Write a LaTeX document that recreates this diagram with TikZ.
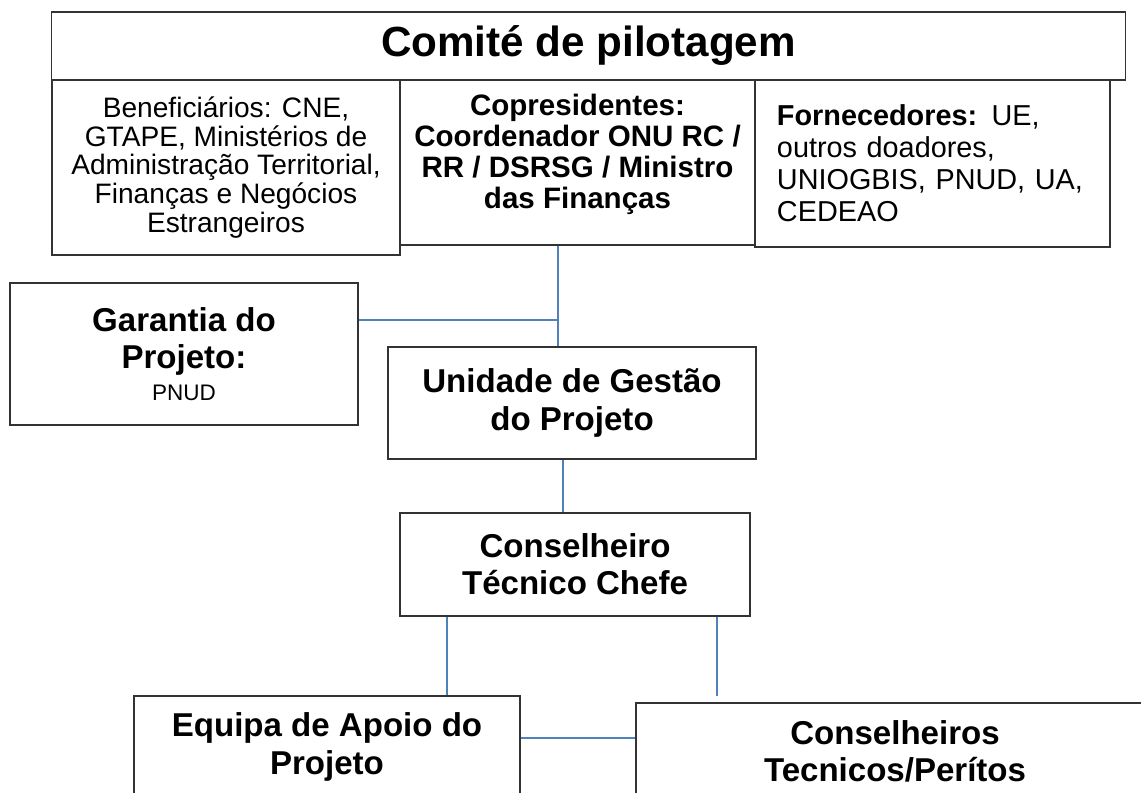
\documentclass[tikz,border=0pt]{standalone}
\usepackage{fontspec}
\setmainfont{Liberation Sans}
\definecolor{linkblue}{RGB}{79,129,189}

\begin{document}
\begin{tikzpicture}[x=0.025cm, y=-0.025cm,
        box/.style={draw=black!80, line width=0.9pt, align=center, inner sep=2pt},
        head/.style={box, font=\fontsize{30}{34}\selectfont\bfseries},
        member/.style={box, font=\fontsize{20}{20.3}\selectfont},
        unit/.style={box, font=\fontsize{23.5}{26.5}\selectfont\bfseries},
        link/.style={draw=linkblue, line width=0.8pt}
    ]
    \useasboundingbox (0,0) rectangle (1141,793);
    \clip (0,0) rectangle (1141,793);

    % ---- Comite de pilotagem ----
    \node[head, minimum width=26.825cm, minimum height=1.7cm] (comite) at (588.5,46) {Comité de pilotagem};
    \node[member, minimum width=8.7cm, minimum height=4.375cm] (benef) at (226,167.5)
        {Beneficiários: CNE,\\GTAPE, Ministérios de\\Administração Territorial,\\Finanças e Negócios\\Estrangeiros};
    \node[box, font=\fontsize{21}{22}\selectfont\bfseries, minimum width=8.875cm, minimum height=4.125cm] (copres) at (577.5,162.5)
        {Copresidentes:\\Coordenador ONU RC /\\RR / DSRSG / Ministro\\das Finanças\\[-6pt]\mbox{}};
    \node[box, font=\fontsize{20.5}{22.7}\selectfont, align=left, text width=7.775cm, inner xsep=0.55cm, minimum height=4.175cm] (fornec) at (932.5,163.5)
        {\textbf{Fornecedores:} UE,\\outros doadores,\\UNIOGBIS, PNUD, UA,\\CEDEAO};

    % ---- Garantia e unidades ----
    \node[unit, minimum width=8.7cm, minimum height=3.55cm] (garantia) at (184,354)
        {Garantia do\\Projeto:\\[-4pt]{\fontsize{16}{18}\selectfont\mdseries PNUD}};
    \node[unit, minimum width=9.2cm, minimum height=2.8cm] (ugp) at (572,403) {Unidade de Gestão\\do Projeto};
    \node[unit, minimum width=8.75cm, minimum height=2.575cm] (ctc) at (575,564.5) {Conselheiro\\Técnico Chefe};
    \node[unit, minimum width=9.65cm, minimum height=2.55cm] (equipa) at (327,747) {Equipa de Apoio do\\Projeto};
    \node[unit, minimum width=12.95cm, minimum height=2.4cm] (peritos) at (895,751) {Conselheiros\\Tecnicos/Perítos};

    % ligacoes
    \coordinate (j1) at (558,320);
    \coordinate (j2) at (563,480);
    \coordinate (j3) at (447,650);
    \coordinate (j4) at (717,696);
    \coordinate (j5) at (580,738);

    \draw[link] (copres.south -| j1) -- (ugp.north -| j1);
    \draw[link] (garantia.east |- j1) -- (j1);
    \draw[link] (ugp.south -| j2) -- (ctc.north -| j2);
    \draw[link] (ctc.south -| j3) -- (equipa.north -| j3);
    \draw[link] (ctc.south -| j4) -- (j4);
    \draw[link] (equipa.east |- j5) -- (peritos.west |- j5);

\end{tikzpicture}
\end{document}
